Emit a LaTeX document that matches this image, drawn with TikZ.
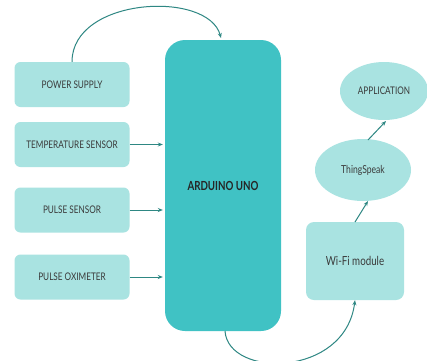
\documentclass[tikz,border=0pt]{standalone}
\usepackage{fontspec}
\setmainfont{Lato}
\newfontfamily\labfont[FakeStretch=0.78]{Lato}
\usetikzlibrary{shapes.geometric,arrows.meta}
\definecolor{lightteal}{HTML}{A9E3E1}
\definecolor{mainteal}{HTML}{40C2C4}
\definecolor{arrowteal}{HTML}{2E8783}
\definecolor{txt}{HTML}{3A3A3A}
\begin{document}
\begin{tikzpicture}[x=1pt,y=-1pt,
  inbox/.style={fill=lightteal, rounded corners=6pt, minimum width=115pt, minimum height=45pt, inner sep=0pt, font=\labfont\fontsize{10.5}{12}\selectfont, text=txt},
  ell/.style={ellipse, fill=lightteal, inner sep=0pt, text=txt},
  conn/.style={draw=arrowteal, line width=1pt, -{Stealth[length=5pt,width=4pt]}}]
\useasboundingbox (0,0) rectangle (427,360);
\fill[white] (0,0) rectangle (427,360);
\node[inbox] (ps) at (72,84.5) {POWER SUPPLY};
\node[inbox] (ts) at (72,144.5) {TEMPERATURE SENSOR};
\node[inbox] (pls) at (72,210) {PULSE SENSOR};
\node[inbox] (po) at (72,277) {PULSE OXIMETER};
\node[fill=mainteal, rounded corners=20pt, minimum width=116pt, minimum height=291pt, inner sep=0pt, font=\labfont\bfseries\fontsize{12.5}{14}\selectfont, text=black!85] (ard) at (223,185.5) {ARDUINO UNO};
\node[fill=lightteal, rounded corners=8pt, minimum width=98pt, minimum height=78pt, inner sep=0pt, font=\labfont\fontsize{12.5}{14}\selectfont, text=txt] (wifi) at (355,261) {Wi-Fi module};
\node[ell, minimum width=96pt, minimum height=62pt, font=\labfont\fontsize{11}{13}\selectfont] (ths) at (363,170) {ThingSpeak};
\node[ell, minimum width=88pt, minimum height=58pt, font=\labfont\fontsize{10.5}{12}\selectfont] (app) at (384,91) {APPLICATION};
\coordinate (ardtop) at (221,38);
\coordinate (ardbot) at (225,331);
\coordinate (wtop) at (355,222);
\coordinate (tbot) at (368,201);
\coordinate (ttop) at (368,140);
\coordinate (abot) at (386,121);
\draw[conn] (ps.north) .. controls (72,-3) and (208,-10) .. (ardtop);
\draw[conn] (ts.east) -- ([xshift=-2pt]ts.east -| ard.west);
\draw[conn] (pls.east) -- ([xshift=-2pt]pls.east -| ard.west);
\draw[conn] (po.east) -- ([xshift=-2pt]po.east -| ard.west);
\draw[conn] (ardbot) .. controls (228,378) and (345,378) .. (wifi.south);
\draw[conn] (wtop) -- (tbot);
\draw[conn] (ttop) -- (abot);
\end{tikzpicture}
\end{document}
